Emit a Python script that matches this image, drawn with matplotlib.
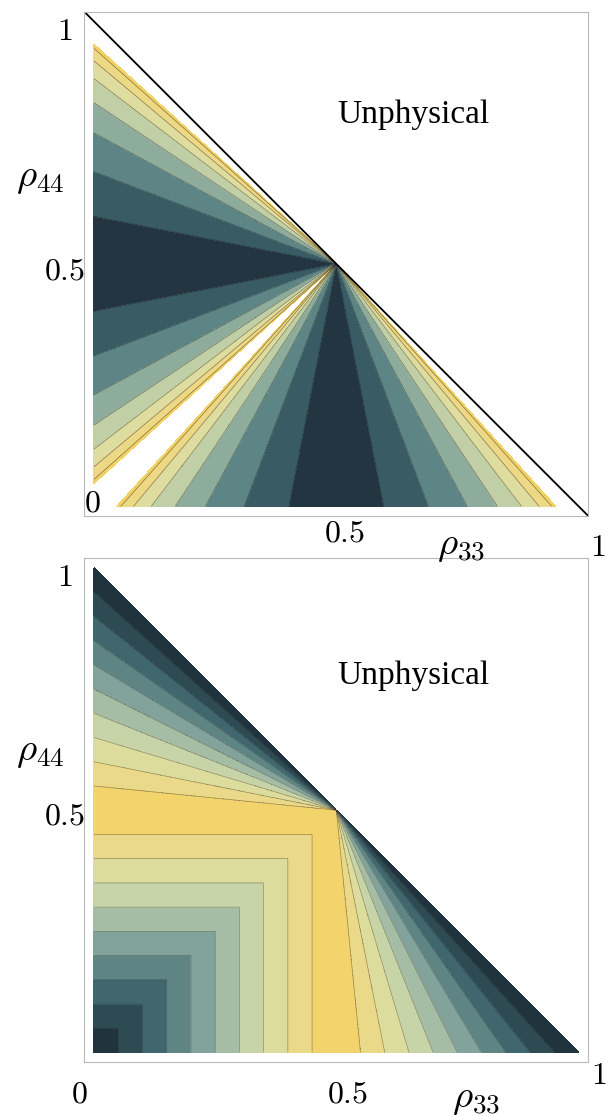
import numpy as np
import matplotlib.pyplot as plt

plt.rcParams['mathtext.fontset'] = 'cm'

W, H = 611, 1115

# top panel: band edges in |slope| of rays through (0.5, 0.5), read on the x=0 / y=0 edges
top_edges = [0.0, 0.196, 0.38, 0.54, 0.665, 0.764, 0.837, 0.889, 0.906]
top_colors = ['#233540', '#385b64', '#5e8585', '#8eac9b', '#c1cfa7',
              '#dedd9f', '#edd886', '#f2d165']

# bottom panel: band edges (square side in the corner, 1 - edge intercept in the wedges)
bottom_edges = [0.0, 0.05, 0.10, 0.15, 0.20, 0.25, 0.30, 0.35, 0.40, 0.45, 0.501]
bottom_colors = ['#21343e', '#2e4a53', '#41676e', '#5e8484', '#82a39b',
                 '#a5bca5', '#c6d4a7', '#dcdd9d', '#ebd98a', '#f2d36c']

pad = 0.02

# grid on the unit square
n = 1201
g = np.linspace(0, 1, n)
X, Y = np.meshgrid(g, g)
outside = (X > 0.5) & (Y > 0.5)

with np.errstate(divide='ignore', invalid='ignore'):
    slope = np.where(Y >= X, (Y - 0.5) / (0.5 - X), (X - 0.5) / (0.5 - Y))
    top_field = np.abs(slope)
    ul = 0.5 - 0.5 * (Y - 0.5) / (0.5 - X)
    lr = 0.5 - 0.5 * (X - 0.5) / (0.5 - Y)
top_field[outside] = np.nan

bot_field = np.where((X <= 0.5) & (Y <= 0.5), np.maximum(X, Y),
                     np.where(Y > 0.5, ul, lr))
bot_field[outside] = np.nan

fig = plt.figure(figsize=(W / 100, H / 100), dpi=100)
ax1 = fig.add_axes([84.3 / W, 1 - 516 / H, 504 / W, 504.3 / H])
ax2 = fig.add_axes([84.3 / W, 1 - 1062.2 / H, 504 / W, 504 / H])

ax1.contourf(X, Y, top_field, levels=top_edges, colors=top_colors)
ax1.contour(X, Y, top_field, levels=top_edges[1:-1], colors='#2a2a2a',
            linewidths=0.5, alpha=0.55)
ax1.plot([-pad, 1 + pad], [1 + pad, -pad], color='black', lw=1.3)

ax2.contourf(X, Y, bot_field, levels=bottom_edges, colors=bottom_colors)
ax2.contour(X, Y, bot_field, levels=bottom_edges[1:-1], colors='#2a2a2a',
            linewidths=0.5, alpha=0.45)

for ax in (ax1, ax2):
    ax.set_xlim(-pad, 1 + pad)
    ax.set_ylim(-pad, 1 + pad)
    ax.set_xticks([])
    ax.set_yticks([])
    for s in ax.spines.values():
        s.set_color('#b8b8b8')
        s.set_linewidth(0.8)


def label(px, py, s, size=23, **kw):
    fig.text(px / W, 1 - py / H, s, fontsize=size, ha='center', va='center', **kw)


# top panel labels
label(65, 31, r'$1$')
label(40, 177, r'$\rho_{44}$', size=28)
label(64.5, 271, r'$0.5$')
label(92.5, 503, r'$0$')
label(345, 533, r'$0.5$')
label(461, 545, r'$\rho_{33}$', size=28)
label(598, 547, r'$1$')
fig.text(413 / W, 1 - 123.5 / H, 'Unphysical', fontsize=24, ha='center',
         va='baseline', family='Liberation Serif')

# bottom panel labels
label(65, 578, r'$1$')
label(40, 751, r'$\rho_{44}$', size=28)
label(64.5, 816, r'$0.5$')
label(79, 1094, r'$0$')
label(348, 1094, r'$0.5$')
label(476, 1098, r'$\rho_{33}$', size=28)
label(599, 1076, r'$1$')
fig.text(413 / W, 1 - 684 / H, 'Unphysical', fontsize=24, ha='center',
         va='baseline', family='Liberation Serif')

fig.savefig('out.png', dpi=100)
